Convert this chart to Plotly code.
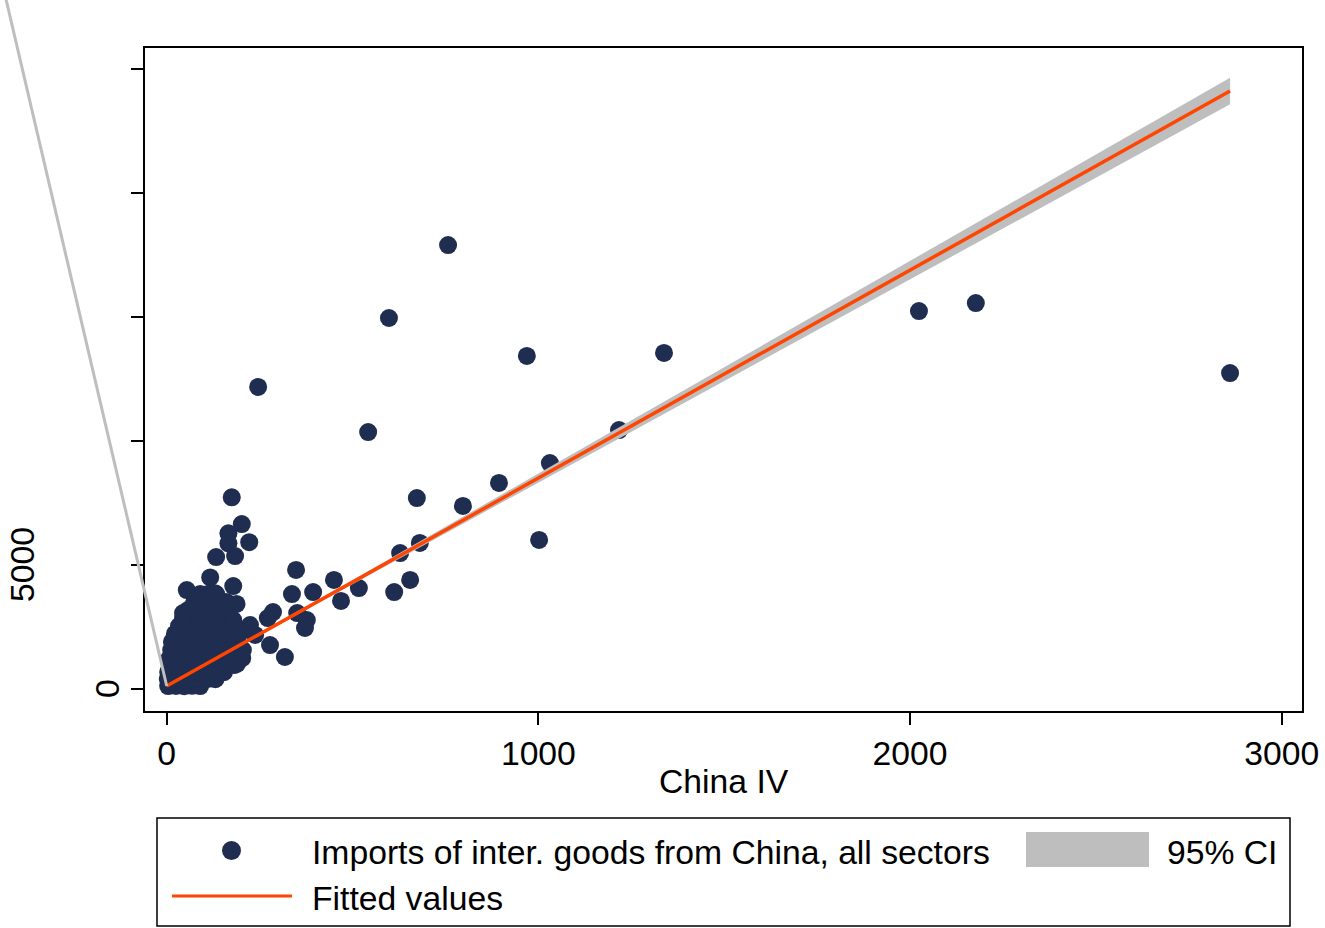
import plotly.graph_objects as go

# ---- data -------------------------------------------------------------
# sparse observations (China IV, imports of intermediate goods)
outer_x = [757, 598, 246, 969, 1338, 2024, 2177, 2861, 542, 1217, 1031, 894,
           673, 797, 1002, 681, 628, 655, 612, 517, 469, 450, 394, 348, 337,
           351, 372, 377, 318, 286, 272, 278, 224, 238, 189, 175, 202, 166,
           222, 166, 184, 133, 117, 179, 54, 130, 188, 103, 44, 179]
outer_y = [17900, 14960, 12180, 13430, 13550, 15240, 15560, 12740, 10360,
           10440, 9110, 8310, 7700, 7380, 6010, 5890, 5480, 4400, 3910, 4070,
           3550, 4400, 3910, 4800, 3830, 3060, 2460, 2780, 1290, 3100, 2860,
           1770, 2580, 2180, 1010, 7730, 6650, 6280, 5920, 5875, 5360, 5320,
           4500, 4150, 3990, 3860, 3430, 3470, 3060, 2780]

# dense mass of small sectors near the origin
core_x = [4, 25, 47, 68, 90,
          3, 26, 46, 69, 88, 112, 131,
          4, 24, 47, 67, 90, 110, 133, 154,
          9, 31, 52, 73, 96, 116, 139, 160, 181,
          8, 30, 53, 74, 95, 117, 137, 160, 180, 203,
          12, 33, 55, 76, 98, 119, 141, 162, 184, 205,
          14, 36, 57, 79, 100, 122, 143, 165, 187,
          22, 44, 65, 87, 108, 130, 152, 173, 195,
          33, 55, 76, 98, 119, 141, 162, 184,
          44, 65, 87, 108, 130, 152, 173,
          57, 79, 100, 122, 143, 165,
          74, 95, 117, 138, 160,
          90, 111, 133]
core_y = [120, 125, 115, 130, 120,
          400, 410, 395, 405, 400, 410, 395,
          690, 680, 685, 690, 680, 690, 685, 680,
          970, 960, 975, 965, 970, 960, 975, 970, 965,
          1250, 1255, 1245, 1250, 1260, 1245, 1250, 1255, 1250, 1245,
          1570, 1575, 1565, 1570, 1580, 1570, 1565, 1575, 1570, 1570,
          1900, 1890, 1895, 1900, 1890, 1895, 1900, 1890, 1895,
          2220, 2215, 2220, 2210, 2220, 2215, 2220, 2215, 2220,
          2540, 2545, 2535, 2540, 2545, 2540, 2535, 2540,
          2860, 2865, 2860, 2855, 2865, 2860, 2860,
          3185, 3180, 3190, 3185, 3180, 3185,
          3510, 3505, 3510, 3505, 3510,
          3830, 3835, 3830]

# linear fit and its 95% confidence band
fit_x = [0, 2861]
fit_y = [120, 24110]
ci_x = [0, 500, 1000, 1500, 2000, 2500, 2861]
ci_lo = [90, 4226, 8323, 12421, 16518, 20616, 23574]
ci_hi = [150, 4400, 8687, 12975, 17262, 21550, 24646]
# stray edge of the band running off the top-left
ci_edge_x = [0, -440]
ci_edge_y = [120, 28300]

x_ticks = [0, 1000, 2000, 3000]
y_ticks = [0, 5000, 10000, 15000, 20000, 25000]
y_labels = ["0", "5000"]

# ---- styling ----------------------------------------------------------
NAVY = "#1e2d50"
ORANGE = "#ff4500"
GRAY = "#bebebe"
FONT = "Liberation Sans, Arial, sans-serif"
FS = 33.7

W, H = 1325, 928
ML, MR, MT, MB = 145, 23, 48, 217
XR = [-58.4, 3054.6]
YR = [-887, 25847]
PW, PH = W - ML - MR, H - MT - MB


def px_x(p):
    return (p - ML) / PW


def px_y(p):
    return (H - MB - p) / PH


def data_to_paper_x(v):
    return (v - XR[0]) / (XR[1] - XR[0])


def data_to_paper_y(v):
    return (v - YR[0]) / (YR[1] - YR[0])


fig = go.Figure()

fig.add_trace(go.Scatter(
    x=core_x + outer_x, y=core_y + outer_y, mode="markers",
    marker=dict(color=NAVY, size=18, line=dict(width=0)),
    name="Imports of inter. goods from China, all sectors",
))

fig.add_trace(go.Scatter(
    x=ci_x + ci_x[::-1], y=ci_hi + ci_lo[::-1], fill="toself",
    fillcolor=GRAY, line=dict(width=0), mode="lines", name="95% CI",
))

fig.add_trace(go.Scatter(
    x=fit_x, y=fit_y, mode="lines",
    line=dict(color=ORANGE, width=3.5), name="Fitted values",
))

shapes = []
# band edge leaving the plot region
shapes.append(dict(
    type="line", xref="paper", yref="paper",
    x0=data_to_paper_x(ci_edge_x[0]), y0=data_to_paper_y(ci_edge_y[0]),
    x1=data_to_paper_x(ci_edge_x[1]), y1=data_to_paper_y(ci_edge_y[1]),
    line=dict(color=GRAY, width=3),
))

# legend frame and keys
shapes.append(dict(type="rect", xref="paper", yref="paper",
                   x0=px_x(157), x1=px_x(1290), y0=px_y(926), y1=px_y(818),
                   line=dict(color="black", width=1.5), fillcolor="white"))
shapes.append(dict(type="circle", xref="paper", yref="paper",
                   x0=px_x(222), x1=px_x(241), y0=px_y(860), y1=px_y(841),
                   line=dict(width=0), fillcolor=NAVY))
shapes.append(dict(type="line", xref="paper", yref="paper",
                   x0=px_x(172), x1=px_x(292), y0=px_y(896), y1=px_y(896),
                   line=dict(color=ORANGE, width=3)))
shapes.append(dict(type="rect", xref="paper", yref="paper",
                   x0=px_x(1026), x1=px_x(1149), y0=px_y(867), y1=px_y(832),
                   line=dict(width=0), fillcolor=GRAY))

annotations = []
for txt, xp, yp in [
    ("Imports of inter. goods from China, all sectors", 310, 852),
    ("Fitted values", 310, 898),
    ("95% CI", 1165, 852),
]:
    annotations.append(dict(text=txt, xref="paper", yref="paper",
                            x=px_x(xp), y=px_y(yp), xanchor="left",
                            yanchor="middle", showarrow=False,
                            font=dict(family=FONT, size=FS, color="black")))

# x-axis title
annotations.append(dict(text="China IV", xref="paper", yref="paper",
                        x=px_x(724), y=px_y(781), xanchor="center",
                        yanchor="middle", showarrow=False,
                        font=dict(family=FONT, size=FS, color="black")))

# vertical y tick labels
for lab, xp in zip(y_labels, [107, 22]):
    annotations.append(dict(text=lab, xref="paper", yref="y",
                            x=px_x(xp), y=float(lab), xanchor="center",
                            yanchor="middle", textangle=-90, showarrow=False,
                            font=dict(family=FONT, size=FS, color="black")))

fig.update_layout(
    width=W, height=H,
    margin=dict(l=ML, r=MR, t=MT, b=MB, autoexpand=False),
    paper_bgcolor="white", plot_bgcolor="white",
    showlegend=False,
    shapes=shapes, annotations=annotations,
    font=dict(family=FONT, size=FS, color="black"),
)

fig.update_xaxes(
    range=XR, tickvals=x_ticks, ticktext=[str(v) for v in x_ticks],
    showgrid=False, zeroline=False, automargin=False,
    showline=True, linecolor="black", linewidth=2, mirror=True,
    ticks="outside", ticklen=12, tickwidth=1.5, tickcolor="black",
    tickfont=dict(family=FONT, size=FS, color="black"),
)
fig.update_yaxes(
    range=YR, tickvals=y_ticks, ticktext=[""] * len(y_ticks),
    showgrid=False, zeroline=False, automargin=False,
    showline=True, linecolor="black", linewidth=2, mirror=True,
    ticks="outside", ticklen=12, tickwidth=1.5, tickcolor="black",
)

fig.write_html("out.html")
